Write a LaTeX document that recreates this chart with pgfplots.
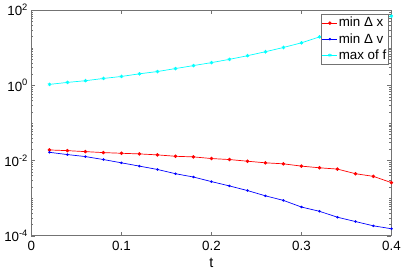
\documentclass[border=0pt]{standalone}
\usepackage{pgfplots}
\pgfplotsset{compat=1.18}
\usepackage{fontspec}
\setmainfont{Liberation Sans}
\definecolor{mcyan}{rgb}{0,1,1}
\definecolor{mred}{rgb}{1,0,0}
\definecolor{mblue}{rgb}{0,0,1}
\definecolor{axgray}{rgb}{0.45,0.45,0.45}
\pgfplotstableread{
t cyan red blue
0.02 1.062 0.01914 0.01656
0.04 1.199 0.01832 0.01439
0.06 1.330 0.01726 0.01274
0.08 1.528 0.01626 0.01062
0.10 1.726 0.01560 0.00869
0.12 2.032 0.01500 0.00710
0.14 2.333 0.01413 0.00579
0.16 2.799 0.01297 0.00446
0.18 3.357 0.01250 0.00364
0.20 4.027 0.01130 0.00275
0.22 4.920 0.01062 0.00211
0.24 6.152 0.00959 0.00159
0.26 7.852 0.00869 0.00115
0.28 10.19 0.00817 0.000869
0.30 13.55 0.00710 0.000579
0.32 19.45 0.00641 0.000446
0.34 26.92 0.00592 0.000310
0.36 37.15 0.00446 0.000238
0.38 51.29 0.00379 0.000183
0.40 69.18 0.00258 0.000153
}\data
\begin{document}
\fontsize{13pt}{15pt}\selectfont
\begin{tikzpicture}
\begin{axis}[
  scale only axis,
  width=364pt, height=228pt,
  ymode=log,
  xmin=0, xmax=0.4,
  ymin=1e-4, ymax=1e2,
  xtick={0,0.1,0.2,0.3,0.4},
  xticklabels={0,0.1,0.2,0.3,0.4},
  ytick={1e-4,1e-2,1,1e2},
  yticklabels={10\textsuperscript{-4},10\textsuperscript{-2},10\textsuperscript{0},10\textsuperscript{2}},
  minor ytick={2e-4,3e-4,4e-4,5e-4,6e-4,7e-4,8e-4,9e-4,1e-3,2e-3,3e-3,4e-3,5e-3,6e-3,7e-3,8e-3,9e-3,2e-2,3e-2,4e-2,5e-2,6e-2,7e-2,8e-2,9e-2,1e-1,2e-1,3e-1,4e-1,5e-1,6e-1,7e-1,8e-1,9e-1,2,3,4,5,6,7,8,9,10,20,30,40,50,60,70,80,90},
  xlabel={t},
  xlabel style={yshift=1pt},
  axis line style={axgray},
  tick style={axgray},
  major tick length=4pt,
  minor tick length=2pt,
  xticklabel style={yshift=-1pt},
  yticklabel style={xshift=1pt},
  tick label style={font=\fontsize{13.5pt}{15pt}\selectfont},
  label style={font=\fontsize{14.5pt}{16pt}\selectfont},
  legend style={at={(1,1)}, anchor=north east, xshift=-3pt, yshift=-4pt, draw=axgray, fill=white, font=\fontsize{13.5pt}{14pt}\selectfont, inner xsep=1pt, inner ysep=2pt, row sep=2.5pt, nodes={inner xsep=1pt, inner ysep=1pt}},
  legend cell align=left,
  legend image code/.code={\draw[mark repeat=2,mark phase=2] plot coordinates {(0cm,0cm) (0.27cm,0cm) (0.54cm,0cm)};},
  clip=false,
]
\addplot[mred, line width=0.7pt, mark=*, mark size=1.4pt] table[x=t, y=red] {\data};
\addlegendentry{min Δ x}
\addplot[mblue, line width=0.7pt, mark=*, mark size=0.9pt] table[x=t, y=blue] {\data};
\addlegendentry{min Δ v}
\addplot[mcyan, line width=0.7pt, mark=asterisk, mark size=1.8pt] table[x=t, y=cyan] {\data};
\addlegendentry{max of f}
\end{axis}
\end{tikzpicture}
\end{document}
